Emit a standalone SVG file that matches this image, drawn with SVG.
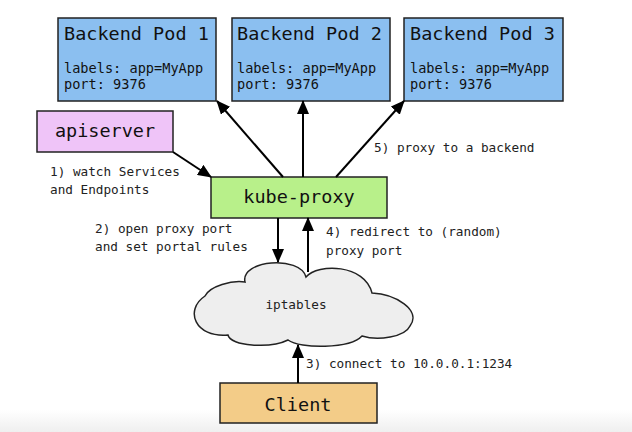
<svg xmlns="http://www.w3.org/2000/svg" width="632" height="432" viewBox="0 0 632 432">
<defs>
<linearGradient id="bg" x1="0" y1="0" x2="0" y2="1">
<stop offset="0" stop-color="#ffffff"/>
<stop offset="1" stop-color="#efefef"/>
</linearGradient>
<marker id="ah" viewBox="0 0 14 12" refX="13" refY="6" markerWidth="14" markerHeight="12" markerUnits="userSpaceOnUse" orient="auto">
<path d="M0,0 L14,6 L0,12 Z" fill="#000"/>
</marker>
<style>
.box{stroke:#222;stroke-width:1.5}
.pod{fill:#8bbff0}
.big{font-family:"DejaVu Sans Mono","Liberation Mono",monospace;font-size:18.5px;fill:#111}
.mid{font-family:"DejaVu Sans Mono","Liberation Mono",monospace;font-size:13.6px;fill:#111}
.sm{font-family:"DejaVu Sans Mono","Liberation Mono",monospace;font-size:12.7px;fill:#222}
.c{stroke:#000;stroke-width:2;fill:none;marker-end:url(#ah)}
</style>
</defs>
<rect x="0" y="0" width="632" height="432" fill="#fff"/>
<rect x="0" y="410" width="632" height="22" fill="url(#bg)"/>

<g id="pod1">
<rect class="box pod" x="58" y="18" width="158" height="83"/>
<text class="big" x="64" y="40">Backend Pod 1</text>
<text class="mid" x="64" y="73">labels: app=MyApp</text>
<text class="mid" x="64" y="89">port: 9376</text>
</g>
<g id="pod2">
<rect class="box pod" x="232" y="18" width="158" height="83"/>
<text class="big" x="237" y="40">Backend Pod 2</text>
<text class="mid" x="237" y="73">labels: app=MyApp</text>
<text class="mid" x="237" y="89">port: 9376</text>
</g>
<g id="pod3">
<rect class="box pod" x="404" y="18" width="159" height="83"/>
<text class="big" x="410" y="40">Backend Pod 3</text>
<text class="mid" x="410" y="73">labels: app=MyApp</text>
<text class="mid" x="410" y="89">port: 9376</text>
</g>
<g id="apiserver">
<rect class="box" fill="#efc4f8" x="37" y="111" width="136" height="41"/>
<text class="big" x="105" y="137" text-anchor="middle">apiserver</text>
</g>
<g id="kube-proxy">
<rect class="box" fill="#b8f08a" x="211" y="177" width="176" height="41"/>
<text class="big" x="299" y="203" text-anchor="middle">kube-proxy</text>
</g>
<g id="iptables">
<path class="box" fill="#eeeeee" d="M245,282 C240,260 300,255 306,277 C318,263 365,264 372,293 C395,294 422,310 410,326 C405,337 378,341 362,336 C350,349 300,349 288,340 C270,349 230,346 228,335 C195,338 184,310 205,296 C210,286 232,280 245,282 Z"/>
<text class="sm" x="296" y="309" text-anchor="middle">iptables</text>
</g>
<g id="client">
<rect class="box" fill="#f3cc88" x="220" y="383" width="157" height="40"/>
<text class="big" x="298" y="411" text-anchor="middle">Client</text>
</g>

<g id="connectors">
<line class="c" x1="173" y1="152" x2="211" y2="177"/>
<line class="c" x1="283" y1="177" x2="217" y2="101"/>
<line class="c" x1="303" y1="177" x2="303" y2="101"/>
<line class="c" x1="336" y1="177" x2="404" y2="101"/>
<line class="c" x1="278" y1="218" x2="278" y2="262"/>
<line class="c" x1="308" y1="272" x2="308" y2="218"/>
<line class="c" x1="298" y1="383" x2="298" y2="345"/>
</g>

<g id="labels">
<text class="sm" x="50" y="176">1) watch Services</text>
<text class="sm" x="50" y="194">and Endpoints</text>
<text class="sm" x="95" y="233">2) open proxy port</text>
<text class="sm" x="95" y="251">and set portal rules</text>
<text class="sm" x="326" y="236">4) redirect to (random)</text>
<text class="sm" x="326" y="255">proxy port</text>
<text class="sm" x="374" y="152">5) proxy to a backend</text>
<text class="sm" x="306" y="368">3) connect to 10.0.0.1:1234</text>
</g>
</svg>
